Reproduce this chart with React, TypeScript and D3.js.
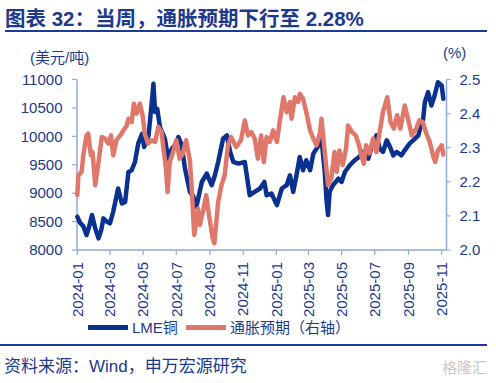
import React from "react";
import * as d3 from "d3";

const copperDates = ["2024-01-01","2024-01-06","2024-01-12","2024-01-18","2024-01-23","2024-01-28","2024-02-03","2024-02-09","2024-02-14","2024-02-18","2024-02-24","2024-03-01","2024-03-07","2024-03-12","2024-03-16","2024-03-23","2024-03-29","2024-04-04","2024-04-10","2024-04-16","2024-04-22","2024-04-29","2024-05-03","2024-05-11","2024-05-17","2024-05-20","2024-05-23","2024-05-27","2024-06-01","2024-06-10","2024-06-16","2024-06-23","2024-06-29","2024-07-05","2024-07-11","2024-07-17","2024-07-26","2024-08-01","2024-08-07","2024-08-12","2024-08-17","2024-08-26","2024-09-04","2024-09-10","2024-09-16","2024-09-25","2024-10-02","2024-10-08","2024-10-14","2024-10-23","2024-11-04","2024-11-13","2024-11-22","2024-12-02","2024-12-10","2024-12-14","2024-12-23","2025-01-02","2025-01-11","2025-01-20","2025-01-26","2025-02-01","2025-02-07","2025-02-13","2025-02-19","2025-02-25","2025-03-04","2025-03-10","2025-03-16","2025-03-22","2025-03-25","2025-03-31","2025-04-03","2025-04-06","2025-04-09","2025-04-15","2025-04-25","2025-05-01","2025-05-07","2025-05-16","2025-05-25","2025-06-02","2025-06-10","2025-06-19","2025-06-28","2025-07-04","2025-07-10","2025-07-16","2025-07-23","2025-07-29","2025-08-04","2025-08-10","2025-08-19","2025-08-25","2025-09-03","2025-09-13","2025-09-19","2025-09-24","2025-09-28","2025-10-01","2025-10-07","2025-10-13","2025-10-19","2025-10-25","2025-11-01","2025-11-04"];
const copperValues = [8584,8480,8420,8263,8420,8614,8380,8205,8350,8556,8500,8470,8672,8900,9082,8819,8847,9373,9403,9549,9871,10046,9812,10017,10601,10924,10427,10485,10163,9959,9608,9784,9850,9989,9842,9433,9023,8950,8760,8980,9198,9345,9140,9315,9549,9959,10017,9725,9549,9520,9549,8965,9023,9082,9198,8965,8994,8789,9082,9140,9315,9023,9315,9637,9403,9579,9403,9696,9784,9871,9959,9373,8907,8614,9023,9140,9257,9198,9373,9491,9579,9637,9725,9608,9900,10017,9784,9725,9930,9812,9666,9725,9666,9754,9871,9959,10017,10192,10309,10601,10777,10543,10719,10952,10894,10660];

const inflDates = ["2024-01-01","2024-01-03","2024-01-09","2024-01-12","2024-01-18","2024-01-21","2024-01-26","2024-01-29","2024-02-03","2024-02-09","2024-02-15","2024-02-21","2024-02-27","2024-03-03","2024-03-07","2024-03-13","2024-03-20","2024-03-26","2024-04-01","2024-04-04","2024-04-10","2024-04-14","2024-04-19","2024-04-25","2024-04-30","2024-05-04","2024-05-10","2024-05-17","2024-05-23","2024-05-29","2024-06-04","2024-06-07","2024-06-12","2024-06-15","2024-06-19","2024-06-25","2024-07-01","2024-07-07","2024-07-13","2024-07-19","2024-07-26","2024-07-29","2024-08-03","2024-08-10","2024-08-13","2024-08-19","2024-08-25","2024-08-31","2024-09-06","2024-09-09","2024-09-16","2024-09-22","2024-09-28","2024-10-04","2024-10-10","2024-10-19","2024-10-28","2024-11-04","2024-11-10","2024-11-16","2024-11-22","2024-11-28","2024-12-04","2024-12-09","2024-12-14","2024-12-20","2024-12-26","2025-01-02","2025-01-08","2025-01-14","2025-01-20","2025-01-26","2025-01-29","2025-02-04","2025-02-10","2025-02-13","2025-02-19","2025-02-25","2025-03-04","2025-03-10","2025-03-16","2025-03-22","2025-03-25","2025-03-31","2025-04-06","2025-04-12","2025-04-18","2025-04-22","2025-04-27","2025-05-03","2025-05-09","2025-05-13","2025-05-20","2025-05-27","2025-06-02","2025-06-06","2025-06-11","2025-06-15","2025-06-21","2025-06-28","2025-07-04","2025-07-10","2025-07-16","2025-07-24","2025-07-30","2025-08-05","2025-08-11","2025-08-17","2025-08-25","2025-08-31","2025-09-07","2025-09-15","2025-09-21","2025-09-27","2025-10-04","2025-10-10","2025-10-16","2025-10-20","2025-10-25","2025-11-01","2025-11-04"];
const inflValues = [2.161,2.219,2.229,2.278,2.336,2.341,2.278,2.287,2.19,2.258,2.331,2.327,2.312,2.336,2.278,2.322,2.336,2.351,2.365,2.385,2.375,2.429,2.4,2.429,2.395,2.341,2.312,2.322,2.317,2.361,2.346,2.302,2.239,2.17,2.258,2.287,2.322,2.268,2.283,2.322,2.263,2.19,2.044,2.122,2.073,2.112,2.161,2.093,2.034,2.02,2.141,2.19,2.219,2.307,2.331,2.302,2.322,2.38,2.336,2.346,2.327,2.268,2.336,2.258,2.331,2.317,2.351,2.317,2.385,2.448,2.404,2.434,2.385,2.448,2.434,2.458,2.444,2.404,2.351,2.327,2.307,2.341,2.385,2.287,2.19,2.21,2.287,2.229,2.292,2.249,2.297,2.365,2.346,2.336,2.307,2.278,2.253,2.307,2.283,2.327,2.287,2.346,2.404,2.448,2.375,2.356,2.395,2.356,2.424,2.385,2.336,2.356,2.38,2.375,2.341,2.317,2.278,2.258,2.292,2.307,2.28];

const xTickLabels = ["2024-01","2024-03","2024-05","2024-07","2024-09","2024-11","2025-01","2025-03","2025-05","2025-07","2025-09","2025-11"];
const leftTicks = [8000,8500,9000,9500,10000,10500,11000];
const rightTicks = [2.0,2.1,2.2,2.3,2.4,2.5];

const BLUE = "#0a318f";
const SALMON = "#e0776b";
const AXIS = "#8eaadb";
const TEXT = "#1b3a8c";
const FONT = "'Liberation Sans', Arial, 'Noto Sans CJK SC', sans-serif";

export default function App() {
  const parse = d3.timeParse("%Y-%m-%d");
  const parseM = d3.timeParse("%Y-%m");
  const left = 77, right = 446.5, top = 79.5, bottom = 250;
  const x = d3.scaleTime()
    .domain([parseM("2024-01") as Date, parseM("2025-11") as Date])
    .range([77.3, 441.7]);
  const yL = d3.scaleLinear().domain([8000, 11000]).range([bottom, top]);
  const yR = d3.scaleLinear().domain([2.0, 2.5]).range([bottom, top]);

  const copper = copperDates.map((d, i) => ({ d: parse(d) as Date, v: copperValues[i] }));
  const infl = inflDates.map((d, i) => ({ d: parse(d) as Date, v: inflValues[i] }));

  const lineC = d3.line<{ d: Date; v: number }>().x(p => x(p.d)).y(p => yL(p.v));
  const lineI = d3.line<{ d: Date; v: number }>().x(p => x(p.d)).y(p => yR(p.v));

  return (
    <svg width={496} height={383} style={{ position: "absolute", left: 0, top: 0, background: "#fff" }} fontFamily={FONT}>
      <rect width={496} height={383} fill="#fff" />
      <text x={5} y={26} fontSize={20.5} fontWeight="bold" fill={TEXT} fontFamily={FONT}>图表 32：当周，通胀预期下行至 2.28%</text>
      <line x1={5} x2={487} y1={31} y2={31} stroke="#1a3c96" strokeWidth={2} />

      <text x={30} y={57.5} dy="0.35em" fontSize={15} fill={TEXT}>(美元/吨)</text>
      <text x={443} y={53} dy="0.35em" fontSize={15} fill={TEXT}>(%)</text>

      {/* left axis */}
      <line x1={left} x2={left} y1={top} y2={bottom} stroke={AXIS} strokeWidth={1.5} />
      {leftTicks.map(t => (
        <g key={t}>
          <line x1={left - 5} x2={left} y1={yL(t)} y2={yL(t)} stroke={AXIS} strokeWidth={1.2} />
          <text x={62.5} y={yL(t)} dy="0.35em" textAnchor="end" fontSize={15} fill={TEXT}>{t}</text>
        </g>
      ))}
      {/* right axis */}
      <line x1={right} x2={right} y1={top} y2={bottom} stroke={AXIS} strokeWidth={1.5} />
      {rightTicks.map(t => (
        <g key={t}>
          <line x1={right} x2={right + 4} y1={yR(t)} y2={yR(t)} stroke={AXIS} strokeWidth={1.2} />
          <text x={459.5} y={yR(t)} dy="0.35em" textAnchor="start" fontSize={15} fill={TEXT}>{t.toFixed(1)}</text>
        </g>
      ))}
      {/* bottom axis */}
      <line x1={left} x2={right} y1={bottom} y2={bottom} stroke={AXIS} strokeWidth={1.5} />
      {xTickLabels.map(t => {
        const xx = x(parseM(t) as Date);
        return (
          <g key={t}>
            <line x1={xx} x2={xx} y1={bottom} y2={bottom + 5} stroke={AXIS} strokeWidth={1.2} />
            <text transform={`translate(${xx},${262}) rotate(-90)`} dy="0.35em" textAnchor="end" fontSize={15} fill={TEXT}>{t}</text>
          </g>
        );
      })}

      <path d={lineC(copper) || ""} fill="none" stroke={BLUE} strokeWidth={4.5} strokeLinejoin="round" strokeLinecap="round" />
      <path d={lineI(infl) || ""} fill="none" stroke={SALMON} strokeWidth={4.5} strokeLinejoin="round" strokeLinecap="round" />

      {/* legend */}
      <line x1={88} x2={128} y1={327.5} y2={327.5} stroke={BLUE} strokeWidth={5} />
      <text x={132} y={327.5} dy="0.35em" fontSize={15} fill={TEXT}>LME铜</text>
      <line x1={186} x2={226} y1={327.5} y2={327.5} stroke={SALMON} strokeWidth={5} />
      <text x={230} y={327.5} dy="0.35em" fontSize={15} fill={TEXT}>通胀预期（右轴）</text>

      <line x1={0} x2={487} y1={345} y2={345} stroke="#1a3c96" strokeWidth={2} />
      <text x={4} y={366.5} dy="0.35em" fontSize={17} fill={TEXT}>资料来源：Wind，申万宏源研究</text>
      <text x={487} y={368} dy="0.35em" textAnchor="end" fontSize={15} fill="#c8c8c8">格隆汇</text>
    </svg>
  );
}
